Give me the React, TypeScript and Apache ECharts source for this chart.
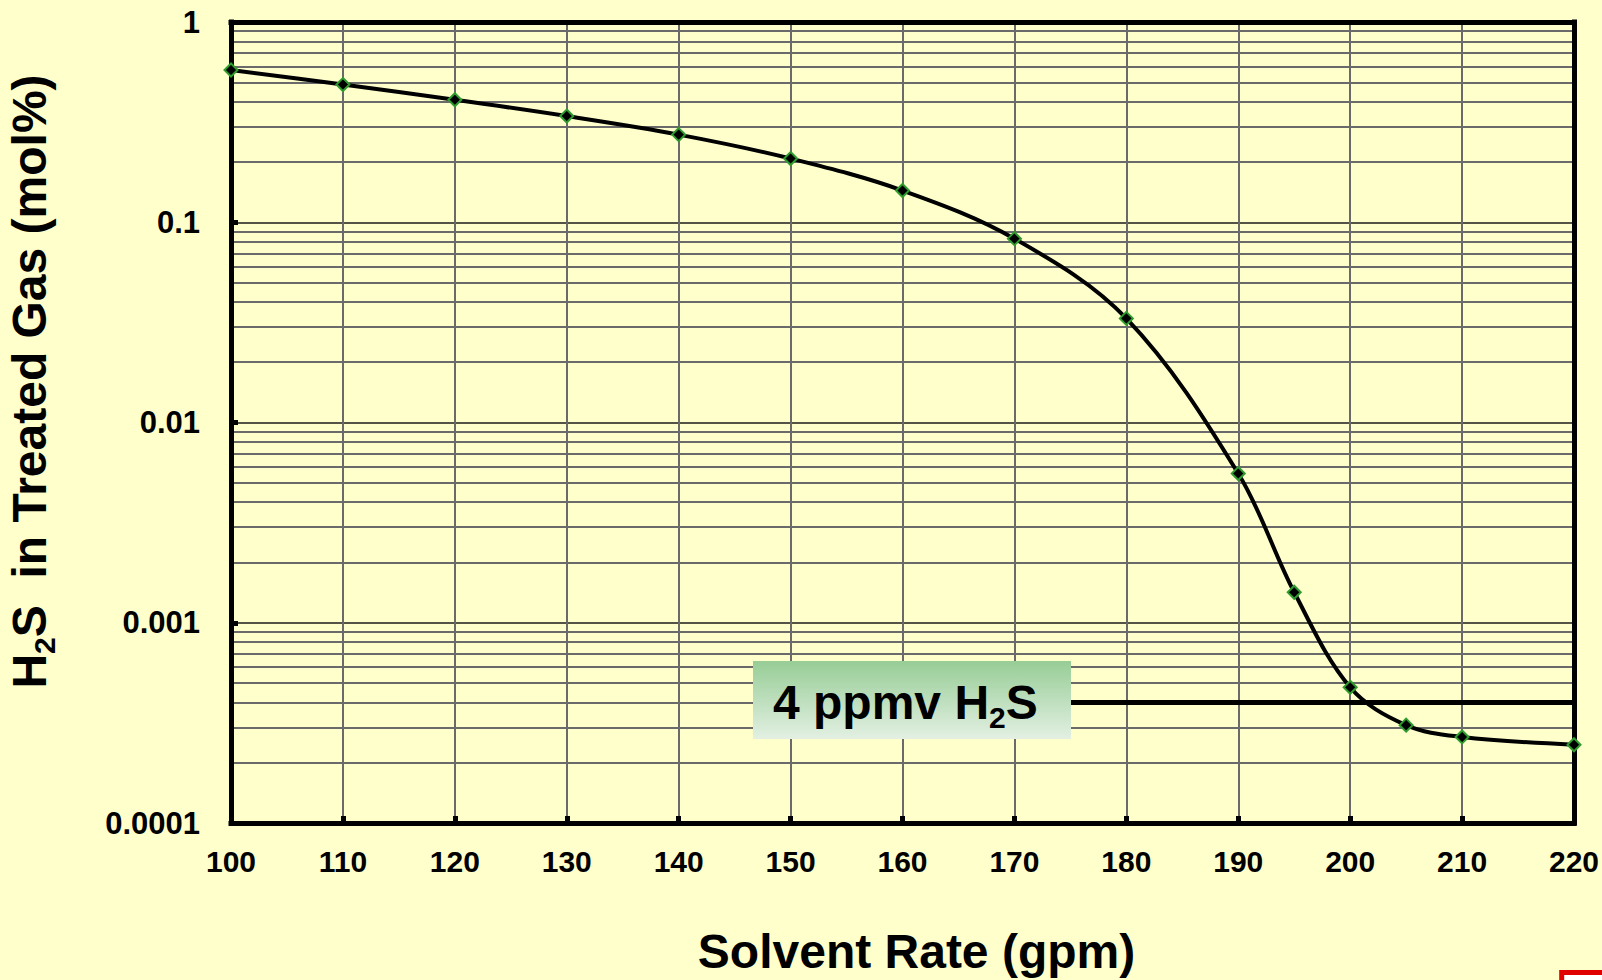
import React, { useEffect, useRef } from "react";
import * as echarts from "echarts";

// ---- data ----
const solventRate = [100, 110, 120, 130, 140, 150, 160, 170, 180, 190, 195, 200, 205, 210, 220];
const h2sTreated = [0.576, 0.487, 0.409, 0.339, 0.274, 0.208, 0.144, 0.0828, 0.0331, 0.00556, 0.00142, 0.000476, 0.000308, 0.000269, 0.000246];
const limitRate = [175, 220];
const limitH2S = 0.0004; // 4 ppmv = 0.0004 mol%
const xTicks = { min: 100, max: 220, step: 10 };
const yDecades = { min: 0.0001, max: 1 };
const minorMultipliers = [2, 3, 4, 5, 6, 7, 8, 9];
const decadeBases = [0.0001, 0.001, 0.01, 0.1];

const FONT = "'Liberation Sans', Arial, Helvetica, sans-serif";
const BG = "#FFFFCC";
const GRID_GRAY = "#6a6a6a";

export default function App() {
  const ref = useRef<HTMLDivElement>(null);
  useEffect(() => {
    if (!ref.current) return;
    const chart = echarts.init(ref.current, undefined, { renderer: "svg" });
    const minorLines: number[] = [];
    decadeBases.forEach((b) => minorMultipliers.forEach((m) => minorLines.push(+(b * m).toPrecision(3))));

    const fmtLog = (v: number) => {
      const e = Math.round(Math.log10(v));
      return e >= 0 ? "1" : "0." + "0".repeat(-e - 1) + "1";
    };

    const borderLine = { show: true, onZero: false, lineStyle: { color: "#000", width: 5, cap: "square" } };

    chart.setOption({
      animation: false,
      backgroundColor: BG,
      grid: { left: 231, right: 28, top: 22, bottom: 157, containLabel: false, outerBoundsMode: "none" },
      xAxis: [
        {
          type: "value",
          min: xTicks.min,
          max: xTicks.max,
          interval: xTicks.step,
          position: "bottom",
          z: 3,
          axisLine: borderLine,
          axisTick: { show: true, inside: true, length: 7, lineStyle: { color: "#000", width: 5 } },
          axisLabel: { show: true, margin: 23, color: "#000", fontSize: 30, fontWeight: "bold", fontFamily: FONT },
          splitLine: { show: true, showMinLine: false, showMaxLine: false, lineStyle: { color: GRID_GRAY, width: 2 } },
          name: "Solvent Rate (gpm)",
          nameLocation: "middle",
          nameGap: 104,
          nameTextStyle: { color: "#000", fontSize: 48, fontWeight: "bold", fontFamily: FONT, lineHeight: 48, padding: [0, 0, 0, 28] },
        },
        {
          type: "value",
          min: xTicks.min,
          max: xTicks.max,
          interval: xTicks.step,
          position: "top",
          z: 3,
          axisLine: borderLine,
          axisTick: { show: false },
          axisLabel: { show: false },
          splitLine: { show: false },
        },
      ],
      yAxis: [
        {
          type: "log",
          logBase: 10,
          min: yDecades.min,
          max: yDecades.max,
          position: "left",
          z: 3,
          axisLine: borderLine,
          axisTick: { show: true, inside: true, length: 7, lineStyle: { color: "#000", width: 5 } },
          axisLabel: { show: true, margin: 31, color: "#000", fontSize: 31, fontWeight: "bold", fontFamily: FONT, formatter: fmtLog },
          splitLine: { show: true, showMinLine: false, showMaxLine: false, lineStyle: { color: "#1a1a1a", width: 1.5 } },
          minorTick: { show: false },
          minorSplitLine: { show: false },
          name: "{m|H}{s|2}{m|S  in Treated Gas (mol%)}",
          nameLocation: "middle",
          nameRotate: 90,
          nameGap: 172,
          nameTextStyle: {
            color: "#000",
            fontSize: 48,
            fontWeight: "bold",
            fontFamily: FONT,
            lineHeight: 60,
            padding: [0, 0, 0, 82],
            rich: {
              m: { fontSize: 48, fontWeight: "bold", fontFamily: FONT, color: "#000", lineHeight: 60 },
              s: { fontSize: 30, fontWeight: "bold", fontFamily: FONT, color: "#000", lineHeight: 28, verticalAlign: "bottom" },
            },
          },
        },
        {
          type: "log",
          logBase: 10,
          min: yDecades.min,
          max: yDecades.max,
          position: "right",
          z: 3,
          axisLine: borderLine,
          axisTick: { show: false },
          axisLabel: { show: false },
          splitLine: { show: false },
        },
      ],
      series: [
        {
          type: "line",
          name: "minor grid",
          data: [],
          z: 1,
          silent: true,
          symbol: "none",
          markLine: {
            silent: true,
            z: 1,
            precision: 10,
            symbol: ["none", "none"],
            label: { show: false },
            emphasis: { disabled: true },
            lineStyle: { color: GRID_GRAY, width: 2, type: "solid" },
            data: minorLines.map((v) => ({ yAxis: v })),
          },
        },
        {
          type: "line",
          name: "4 ppmv",
          data: limitRate.map((x) => [x, limitH2S]),
          z: 6,
          symbol: "none",
          silent: true,
          lineStyle: { color: "#000", width: 5 },
        },
        {
          type: "line",
          name: "H2S",
          data: solventRate.map((x, i) => [x, h2sTreated[i]]),
          z: 7,
          clip: false,
          smooth: 0.35,
          symbol: "diamond",
          symbolSize: 13,
          itemStyle: { color: "#000", borderColor: "#2E9B2E", borderWidth: 2 },
          lineStyle: { color: "#000", width: 4 },
        },
      ],
      graphic: [
        {
          type: "rect",
          z: 100,
          shape: { x: 753, y: 661, width: 318, height: 78 },
          style: {
            fill: {
              type: "linear",
              x: 0,
              y: 0,
              x2: 0,
              y2: 1,
              colorStops: [
                { offset: 0, color: "#97CD96" },
                { offset: 1, color: "#E3F0E3" },
              ],
            },
          },
        },
        {
          type: "text",
          z: 101,
          x: 773,
          y: 702,
          style: {
            text: "{m|4 ppmv H}{s|2}{m|S}",
            align: "left",
            verticalAlign: "middle",
            rich: {
              m: { fontSize: 48, fontWeight: "bold", fontFamily: FONT, fill: "#000", lineHeight: 60 },
              s: { fontSize: 30, fontWeight: "bold", fontFamily: FONT, fill: "#000", lineHeight: 28, verticalAlign: "bottom" },
            },
          },
        },
        {
          type: "rect",
          z: 100,
          shape: { x: 1561.7, y: 972.5, width: 60, height: 30 },
          style: { fill: "#fff", stroke: "#E00000", lineWidth: 5 },
        },
      ],
    });
    return () => chart.dispose();
  }, []);
  return <div ref={ref} style={{ position: "fixed", left: 0, top: 0, width: 1602, height: 980 }} />;
}
